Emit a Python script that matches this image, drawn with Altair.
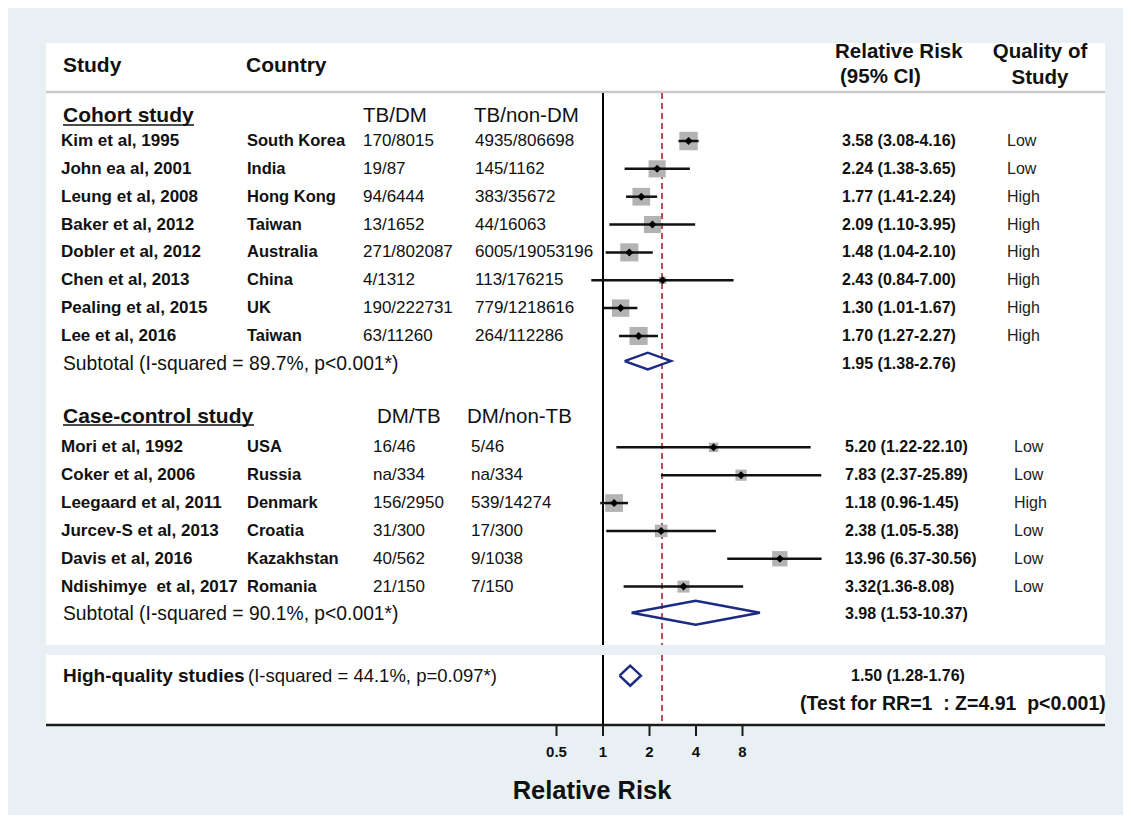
import altair as alt
import pandas as pd
import numpy as np

# ---------------- data ----------------
cohort_studies = ["Kim et al, 1995", "John ea al, 2001", "Leung et al, 2008", "Baker et al, 2012",
                  "Dobler et al, 2012", "Chen et al, 2013", "Pealing et al, 2015", "Lee et al, 2016"]
cohort_countries = ["South Korea", "India", "Hong Kong", "Taiwan", "Australia", "China", "UK", "Taiwan"]
cohort_tbdm = ["170/8015", "19/87", "94/6444", "13/1652", "271/802087", "4/1312", "190/222731", "63/11260"]
cohort_tbnondm = ["4935/806698", "145/1162", "383/35672", "44/16063", "6005/19053196", "113/176215",
                  "779/1218616", "264/112286"]
cohort_rr = [3.58, 2.24, 1.77, 2.09, 1.48, 2.43, 1.30, 1.70]
cohort_lo = [3.08, 1.38, 1.41, 1.10, 1.04, 0.84, 1.01, 1.27]
cohort_hi = [4.16, 3.65, 2.24, 3.95, 2.10, 7.00, 1.67, 2.27]
cohort_rr_text = ["3.58 (3.08-4.16)", "2.24 (1.38-3.65)", "1.77 (1.41-2.24)", "2.09 (1.10-3.95)",
                  "1.48 (1.04-2.10)", "2.43 (0.84-7.00)", "1.30 (1.01-1.67)", "1.70 (1.27-2.27)"]
cohort_quality = ["Low", "Low", "High", "High", "High", "High", "High", "High"]
cohort_weight = [13.0, 11.2, 12.0, 11.2, 12.5, 2.1, 11.6, 12.5]

cc_studies = ["Mori et al, 1992", "Coker et al, 2006", "Leegaard et al, 2011", "Jurcev-S et al, 2013",
              "Davis et al, 2016", "Ndishimye\u00a0 et al, 2017"]
cc_countries = ["USA", "Russia", "Denmark", "Croatia", "Kazakhstan", "Romania"]
cc_dmtb = ["16/46", "na/334", "156/2950", "31/300", "40/562", "21/150"]
cc_dmnontb = ["5/46", "na/334", "539/14274", "17/300", "9/1038", "7/150"]
cc_rr = [5.20, 7.83, 1.18, 2.38, 13.96, 3.32]
cc_lo = [1.22, 2.37, 0.96, 1.05, 6.37, 1.36]
cc_hi = [22.10, 25.89, 1.45, 5.38, 30.56, 8.08]
cc_rr_text = ["5.20 (1.22-22.10)", "7.83 (2.37-25.89)", "1.18 (0.96-1.45)", "2.38 (1.05-5.38)",
              "13.96 (6.37-30.56)", "3.32(1.36-8.08)"]
cc_quality = ["Low", "Low", "High", "Low", "Low", "Low"]
cc_weight = [3.4, 4.8, 12.0, 6.0, 9.0, 5.5]

pooled_names = ["Cohort subtotal", "Case-control subtotal", "High-quality studies"]
pooled_rr = [1.95, 3.98, 1.50]
pooled_lo = [1.38, 1.53, 1.28]
pooled_hi = [2.76, 10.37, 1.76]
pooled_text = ["1.95 (1.38-2.76)", "3.98 (1.53-10.37)", "1.50 (1.28-1.76)"]
subtotal_text = ["Subtotal (I-squared = 89.7%, p<0.001*)", "Subtotal (I-squared = 90.1%, p<0.001*)"]
overall_rr = 2.41  # dashed reference line

tick_values = [0.5, 1, 2, 4, 8]
tick_labels = ["0.5", "1", "2", "4", "8"]

# ---------------- layout / style ----------------
FONT = "Liberation Sans"
BG = "#e8f0f3"
TXT = "#111111"
NAVY = "#1b2a84"
W, H = 1115, 807
OX, OY = 8, 8


def px(x):
    return x - OX


def py(y):
    return y - OY


STEP = 27.85
SLOT0 = 113.15
UNIT = 46.5
X1 = 603
yscale = alt.Scale(domain=[0, 20], range=[py(SLOT0), py(SLOT0 + 20 * STEP)], zero=False, nice=False)
xscale = alt.Scale(type="log", base=2, domain=[0.5, 26],
                   range=[px(X1 - UNIT), px(X1 + UNIT * np.log2(26))], clamp=True, nice=False)


def Xf(f):
    return alt.X(f, type="quantitative", scale=xscale, axis=None)


def Yf(f):
    return alt.Y(f, type="quantitative", scale=yscale, axis=None)


# slots (row positions computed from order)
c_slots = [1 + i for i in range(len(cohort_studies))]
c_sub = c_slots[-1] + 1
cc_slots = [c_sub + 3 + j for j in range(len(cc_studies))]
cc_sub = cc_slots[-1] + 1
hq_slot = cc_sub + 2.2
test_slot = hq_slot + 1
c_head = c_slots[0] - 0.88
cc_head = cc_slots[0] - 1.1

df_c = pd.DataFrame({"study": cohort_studies, "country": cohort_countries, "n1": cohort_tbdm,
                     "n2": cohort_tbnondm, "est": cohort_rr, "lo": cohort_lo, "hi": cohort_hi,
                     "rr": cohort_rr_text, "q": cohort_quality, "weight": cohort_weight, "slot": c_slots})
df_cc = pd.DataFrame({"study": cc_studies, "country": cc_countries, "n1": cc_dmtb,
                      "n2": cc_dmnontb, "est": cc_rr, "lo": cc_lo, "hi": cc_hi,
                      "rr": cc_rr_text, "q": cc_quality, "weight": cc_weight, "slot": cc_slots})
df_all = pd.concat([df_c, df_cc], ignore_index=True)

p_slots = [c_sub - 0.1, cc_sub - 0.06, hq_slot]
p_half = [0.3, 0.43, 0.36]
rows = []
for name, e, lo, hi, s, h in zip(pooled_names, pooled_rr, pooled_lo, pooled_hi, p_slots, p_half):
    pts = [(lo, s), (e, s - h), (hi, s), (e, s + h), (lo, s)]
    for k, (xv, yv) in enumerate(pts):
        rows.append({"name": name, "ord": k, "xv": xv, "yv": yv})
df_dia = pd.DataFrame(rows)

one = pd.DataFrame({"a": [0]})


def rect(x0, x1, y0, y1, color):
    return alt.Chart(one).mark_rect(color=color).encode(
        x=alt.value(px(x0)), x2=alt.value(px(x1)), y=alt.value(py(y0)), y2=alt.value(py(y1)))


def hline(x0, x1, y, color, w):
    return alt.Chart(one).mark_rule(color=color, strokeWidth=w).encode(
        x=alt.value(px(x0)), x2=alt.value(px(x1)), y=alt.value(py(y)))


def label(text, x, y, size, bold=False, align="left", color=TXT):
    return alt.Chart(one).mark_text(text=text, align=align, baseline="middle", font=FONT, fontSize=size,
                                    fontWeight="bold" if bold else "normal", color=color).encode(
        x=alt.value(px(x)), y=alt.value(py(y)))


def slot_label(text, x, slot, size, bold=False, align="left", color=TXT):
    d = pd.DataFrame({"slot": [slot], "t": [text]})
    return alt.Chart(d).mark_text(align=align, baseline="middle", font=FONT, fontSize=size,
                                  fontWeight="bold" if bold else "normal", color=color).encode(
        x=alt.value(px(x)), y=Yf("slot"), text="t:N")


def col(df, field, x, size, bold=False, color=TXT):
    return alt.Chart(df).mark_text(align="left", baseline="middle", font=FONT, fontSize=size,
                                   fontWeight="bold" if bold else "normal", color=color).encode(
        x=alt.value(px(x)), y=Yf("slot"), text=alt.Text(f"{field}:N"))


def vrule(value, y0, y1, **kw):
    d = pd.DataFrame({"v": [value]})
    return alt.Chart(d).mark_rule(**kw).encode(x=Xf("v"), y=alt.value(py(y0)), y2=alt.value(py(y1)))


NB = "\u00a0"

layers = [
    rect(46, 1105, 43, 645, "white"),
    rect(46, 1105, 655, 725, "white"),
    hline(46, 1105, 92, "#c9c9c9", 2.5),
    # header
    label("Study", 63, 66, 21, True),
    label("Country", 246, 66, 21, True),
    label("Relative Risk", 835, 52, 20.5, True),
    label("(95% CI)", 840, 77, 20.5, True),
    label("Quality of", 1040, 52, 20.5, True, "center"),
    label("Study", 1040, 78, 20.5, True, "center"),
    # reference lines
    vrule(1, 93, 645, color="#000000", strokeWidth=2),
    vrule(1, 655, 725, color="#000000", strokeWidth=2),
    vrule(overall_rr, 93, 645, color="#a8252d", strokeWidth=1.6, strokeDash=[6, 4]),
    vrule(overall_rr, 655, 725, color="#a8252d", strokeWidth=1.6, strokeDash=[6, 4]),
    # study markers
    alt.Chart(df_all).mark_square(color="#b3b3b3", opacity=1).encode(
        x=Xf("est"), y=Yf("slot"),
        size=alt.Size("weight:Q", scale=alt.Scale(domain=[0, 13], range=[0, 340]), legend=None)),
    alt.Chart(df_all).mark_rule(color="#111111", strokeWidth=2.5).encode(x=Xf("lo"), x2="hi", y=Yf("slot")),
    alt.Chart(df_all).mark_point(shape="diamond", filled=True, color="#000000", size=64, opacity=1).encode(
        x=Xf("est"), y=Yf("slot")),
    # pooled diamonds
    alt.Chart(df_dia).mark_line(color=NAVY, strokeWidth=2.4, strokeJoin="miter").encode(
        x=Xf("xv"), y=Yf("yv"), detail="name:N", order="ord:Q"),
    # cohort section
    slot_label("Cohort study", 63, c_head, 21, True),
    hline(63, 194, 125, TXT, 1.5),
    slot_label("TB/DM", 363, c_head, 20.5),
    slot_label("TB/non-DM", 474, c_head, 20.5),
    col(df_c, "study", 61, 17, True),
    col(df_c, "country", 247, 16.5, True),
    col(df_c, "n1", 363, 17),
    col(df_c, "n2", 475, 17),
    col(df_c, "rr", 842, 16, True),
    col(df_c, "q", 1007, 16, False, "#222222"),
    slot_label(subtotal_text[0], 63, c_sub, 19.3),
    slot_label(pooled_text[0], 842, c_sub, 16, True),
    # case-control section
    slot_label("Case-control study", 63, cc_head, 21, True),
    hline(63, 254, 425, TXT, 1.5),
    slot_label("DM/TB", 377, cc_head, 20.5),
    slot_label("DM/non-TB", 467, cc_head, 20.5),
    col(df_cc, "study", 61, 17, True),
    col(df_cc, "country", 247, 16.5, True),
    col(df_cc, "n1", 373, 17),
    col(df_cc, "n2", 471, 17),
    col(df_cc, "rr", 845, 16, True),
    col(df_cc, "q", 1014, 16, False, "#222222"),
    slot_label(subtotal_text[1], 63, cc_sub, 19.3),
    slot_label(pooled_text[1], 845, cc_sub, 16, True),
    # high quality
    slot_label("High-quality studies", 63, hq_slot, 19, True),
    slot_label("(I-squared = 44.1%, p=0.097*)", 248, hq_slot, 18.5),
    slot_label(pooled_text[2], 851, hq_slot, 16, True),
    slot_label(f"(Test for RR=1{NB} : Z=4.91{NB} p<0.001)", 800, test_slot, 19.5, True),
    # axis
    hline(46, 1105, 725, "#1a1a1a", 2.5),
    alt.Chart(pd.DataFrame({"v": tick_values, "lab": tick_labels})).mark_rule(
        color="#1a1a1a", strokeWidth=2).encode(x=Xf("v"), y=alt.value(py(725)), y2=alt.value(py(736))),
    alt.Chart(pd.DataFrame({"v": tick_values, "lab": tick_labels})).mark_text(
        font=FONT, fontSize=15, fontWeight="bold", color=TXT, baseline="middle").encode(
        x=Xf("v"), y=alt.value(py(752)), text="lab:N"),
    label("Relative Risk", 592, 791, 25.5, True, "center"),
]

chart = alt.layer(*layers).properties(
    width=W, height=H, autosize=alt.AutoSizeParams(type="none"), padding=0, background=BG
).configure_view(stroke=None)

chart.save("out.html", embed_options={"renderer": "svg", "actions": False})
